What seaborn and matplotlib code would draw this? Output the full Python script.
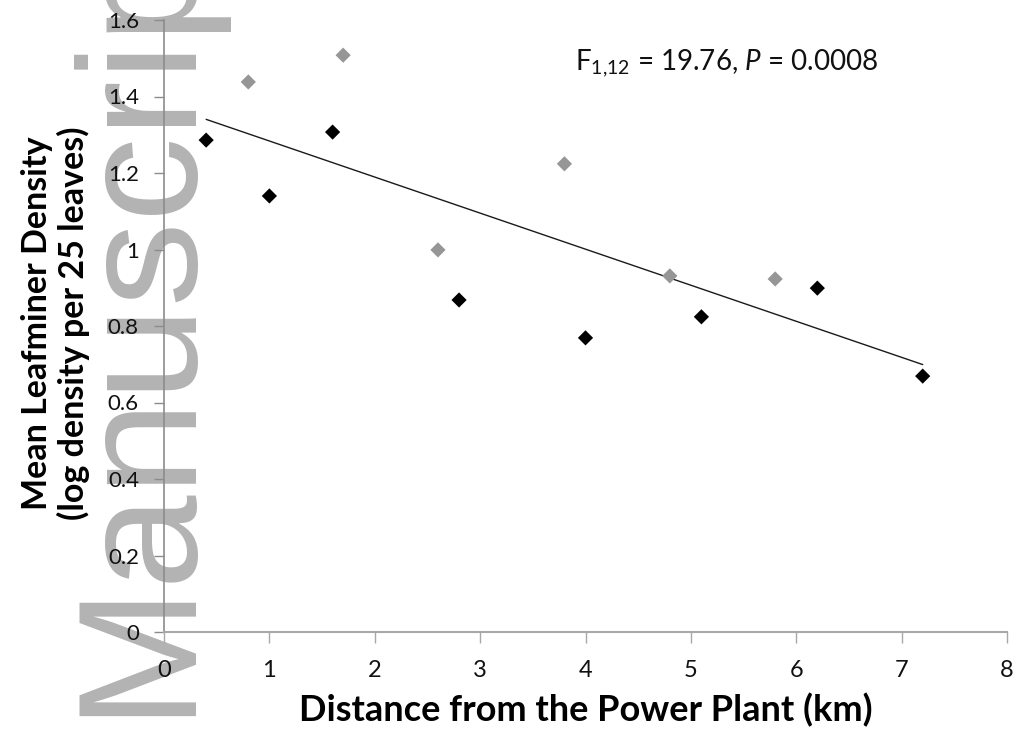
import matplotlib
matplotlib.use("Agg")
import matplotlib.pyplot as plt
import seaborn as sns
import pandas as pd

# ---- data ----
black_x = [0.4, 1.0, 1.6, 2.8, 4.0, 5.1, 6.2, 7.2]
black_y = [1.286, 1.140, 1.307, 0.868, 0.769, 0.824, 0.899, 0.669]
gray_x = [0.8, 1.7, 2.6, 3.8, 4.8, 5.8]
gray_y = [1.438, 1.508, 0.999, 1.224, 0.931, 0.923]
x_ticks = [0, 1, 2, 3, 4, 5, 6, 7, 8]
y_ticks = [0, 0.2, 0.4, 0.6, 0.8, 1.0, 1.2, 1.4, 1.6]
y_tick_labels = ["0", "0.2", "0.4", "0.6", "0.8", "1", "1.2", "1.4", "1.6"]
x_label = "Distance from the Power Plant (km)"
y_label = "Mean Leafminer Density\n(log density per 25 leaves)"
stat_text = "F$_{1{,}12}$ = 19.76, $P$ = 0.0008"
watermark = "Manuscript"

df = pd.DataFrame({
    "x": black_x + gray_x,
    "y": black_y + gray_y,
    "group": ["black"] * len(black_x) + ["gray"] * len(gray_x),
})

sns.set_style("white")
plt.rcParams["font.family"] = ["Lato", "DejaVu Sans"]
plt.rcParams["mathtext.fontset"] = "custom"
plt.rcParams["mathtext.rm"] = "Lato"
plt.rcParams["mathtext.it"] = "Lato:italic"

W, H = 1016, 731
fig = plt.figure(figsize=(W / 100, H / 100), dpi=100)
fig.patch.set_facecolor("white")

# watermark behind everything
fig.text(183 / W, 1 - 716 / H, watermark, rotation=90, rotation_mode="anchor",
         ha="left", va="baseline", fontsize=122, family="Liberation Sans",
         color="#b3b3b3", zorder=-5)

ax = fig.add_axes([164 / W, 99 / H, 843 / W, 612 / H])
ax.set_facecolor("none")

sns.scatterplot(data=df, x="x", y="y", hue="group",
                palette={"black": "#000000", "gray": "#969696"},
                marker="D", s=60, linewidth=0, legend=False, ax=ax, zorder=3)
sns.regplot(data=df, x="x", y="y", scatter=False, ci=None, ax=ax,
            color="#1a1a1a", line_kws={"linewidth": 1.0, "zorder": 2})

ax.set_xlim(0, 8)
ax.set_ylim(0, 1.6)
ax.set_xticks(x_ticks)
ax.set_xticklabels([str(v) for v in x_ticks])
ax.set_yticks(y_ticks)
ax.set_yticklabels(y_tick_labels)

for s in ["top", "right"]:
    ax.spines[s].set_visible(False)
ax.spines["left"].set_color("#8c8c8c")
ax.spines["bottom"].set_color("#a8a8a8")
ax.spines["left"].set_linewidth(1.2)
ax.spines["bottom"].set_linewidth(1.5)

ax.tick_params(axis="y", direction="out", length=7, width=1, color="#8c8c8c",
               pad=11, labelsize=16, labelcolor="#111111", left=True)
ax.tick_params(axis="x", direction="out", length=8, width=1, color="#a8a8a8",
               pad=12, labelsize=17, labelcolor="#111111", bottom=True)

ax.set_xlabel(x_label, fontsize=26, fontweight="bold", color="#000000")
ax.xaxis.set_label_coords(0.5, (632 - 693) / 612)
ax.xaxis.label.set_va("top")
ax.set_ylabel(y_label, fontsize=24.5, fontweight="bold", color="#000000",
              linespacing=1.15)
ax.yaxis.set_label_coords((90 - 164) / 843, 0.505)

ax.text(3.9, 1.469, stat_text, fontsize=20, ha="left", va="baseline",
        color="#111111")

fig.savefig("out.png", dpi=100, facecolor="white")
